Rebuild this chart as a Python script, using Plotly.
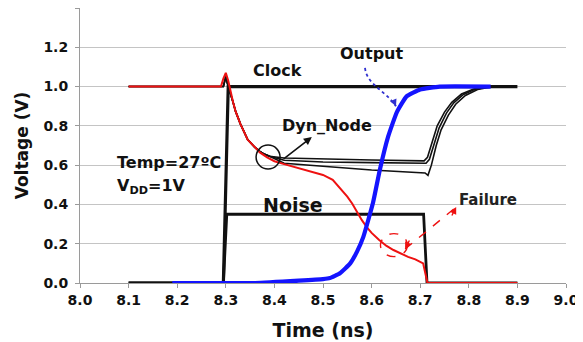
import plotly.graph_objects as go

# ---------------- data ----------------
clock_t = [8.10, 8.295, 8.305, 8.90]
clock_v = [0.0, 0.0, 1.0, 1.0]

noise_t = [8.10, 8.295, 8.302, 8.707, 8.714, 8.90]
noise_v = [0.0, 0.0, 0.35, 0.35, 0.0, 0.0]

decay_t = [8.10, 8.295, 8.300, 8.305, 8.315, 8.320, 8.330, 8.345, 8.360, 8.370, 8.380, 8.390]
decay_v = [1.00, 1.00, 1.05, 1.00, 0.92, 0.875, 0.81, 0.73, 0.69, 0.67, 0.655, 0.645]

dyn_a_t = [8.42, 8.50, 8.60, 8.708, 8.715, 8.725, 8.735, 8.750, 8.765, 8.785, 8.810, 8.835, 8.850]
dyn_a_v = [0.636, 0.630, 0.626, 0.622, 0.640, 0.720, 0.800, 0.870, 0.920, 0.962, 0.988, 0.998, 1.000]

dyn_b_t = [8.42, 8.50, 8.60, 8.712, 8.719, 8.729, 8.739, 8.754, 8.769, 8.789, 8.814, 8.839, 8.855]
dyn_b_v = [0.625, 0.616, 0.613, 0.610, 0.630, 0.710, 0.790, 0.865, 0.917, 0.960, 0.987, 0.998, 1.000]

dyn_c_t = [8.42, 8.50, 8.60, 8.710, 8.716, 8.723, 8.733, 8.743, 8.758, 8.773, 8.793, 8.818, 8.843, 8.860]
dyn_c_v = [0.610, 0.595, 0.575, 0.560, 0.548, 0.600, 0.700, 0.780, 0.855, 0.910, 0.955, 0.985, 0.997, 1.000]

fail_t = [8.10, 8.290, 8.295, 8.300, 8.305, 8.310, 8.315, 8.320, 8.330, 8.345, 8.360, 8.370, 8.385,
          8.400, 8.420, 8.450, 8.480, 8.500, 8.520, 8.540, 8.550, 8.560, 8.570, 8.580, 8.590,
          8.600, 8.615, 8.630, 8.645, 8.660, 8.675, 8.690, 8.700, 8.706, 8.715, 8.90]
fail_v = [1.00, 1.00, 1.04, 1.07, 1.03, 0.97, 0.92, 0.875, 0.81, 0.73, 0.69, 0.665, 0.64,
          0.62, 0.605, 0.585, 0.565, 0.55, 0.525, 0.47, 0.44, 0.405, 0.36, 0.32, 0.285,
          0.255, 0.22, 0.19, 0.168, 0.15, 0.133, 0.12, 0.108, 0.10, 0.0, 0.0]

out_t = [8.19, 8.36, 8.45, 8.50, 8.514, 8.535, 8.556, 8.570, 8.583, 8.603, 8.617, 8.634, 8.652,
         8.672, 8.700, 8.740, 8.845]
out_v = [0.0, 0.0, 0.012, 0.02, 0.025, 0.05, 0.10, 0.16, 0.235, 0.41, 0.577, 0.745, 0.87,
         0.95, 0.985, 1.0, 1.0]

x_ticks = [8.0, 8.1, 8.2, 8.3, 8.4, 8.5, 8.6, 8.7, 8.8, 8.9, 9.0]
y_ticks = [0.0, 0.2, 0.4, 0.6, 0.8, 1.0, 1.2, 1.4]
y_ticktext = ["0.0", "0.2", "0.4", "0.6", "0.8", "1.0", "1.2", ""]

# ---------------- figure ----------------
FONT = "DejaVu Sans"
BLACK = "#111111"
RED = "#ee1111"
BLUE = "#1414ff"
GRID = "#c4c4c4"

fig = go.Figure()

for t_list, v_list in [(dyn_a_t, dyn_a_v), (dyn_b_t, dyn_b_v), (dyn_c_t, dyn_c_v)]:
    fig.add_trace(go.Scatter(x=decay_t + t_list, y=decay_v + v_list, mode="lines",
                             line=dict(color=BLACK, width=1.6), hoverinfo="skip"))

fig.add_trace(go.Scatter(x=clock_t, y=clock_v, mode="lines", name="Clock",
                         line=dict(color=BLACK, width=3.2)))
fig.add_trace(go.Scatter(x=noise_t, y=noise_v, mode="lines", name="Noise",
                         line=dict(color=BLACK, width=2.8)))
fig.add_trace(go.Scatter(x=fail_t, y=fail_v, mode="lines", name="Dyn_Node (failure)",
                         line=dict(color=RED, width=2.0)))
fig.add_trace(go.Scatter(x=out_t, y=out_v, mode="lines", name="Output",
                         line=dict(color=BLUE, width=4.2, shape="spline", smoothing=0.4)))

annot_font = dict(family=FONT, size=16, color=BLACK, weight="bold")
annotations = [
    dict(x=8.407, y=1.08, text="Clock"),
    dict(x=8.599, y=1.166, text="Output"),
    dict(x=8.508, y=0.80, text="Dyn_Node"),
    dict(x=8.072, y=0.611, text="Temp=27ºC", xanchor="left"),
    dict(x=8.072, y=0.489, text="V<sub>DD</sub>=1V", xanchor="left"),
    dict(x=8.438, y=0.397, text="Noise", font=dict(family=FONT, size=19, color=BLACK, weight="bold")),
    dict(x=8.84, y=0.423, text="Failure", font=dict(family=FONT, size=15, color="#222222", weight="bold")),
]
for a in annotations:
    a.setdefault("xanchor", "center")
    a.setdefault("font", annot_font)
    a.update(xref="x", yref="y", yanchor="middle", showarrow=False)

# Dyn_Node arrow
annotations.append(dict(x=8.477, y=0.743, ax=8.416, ay=0.626, xref="x", yref="y", axref="x", ayref="y",
                        text="", showarrow=True, arrowhead=2, arrowsize=1, arrowwidth=1.6,
                        arrowcolor=BLACK, standoff=0))
# Failure dashed double arrow: heads only (dashed shaft drawn as a shape)
annotations.append(dict(x=8.774, y=0.387, ax=-5, ay=10, xref="x", yref="y",
                        text="", showarrow=True, arrowhead=2, arrowsize=1, arrowwidth=1.4,
                        arrowcolor=RED, standoff=0))
annotations.append(dict(x=8.669, y=0.173, ax=5, ay=-10, xref="x", yref="y",
                        text="", showarrow=True, arrowhead=2, arrowsize=1, arrowwidth=1.4,
                        arrowcolor=RED, standoff=0))
# Output dotted arrow head
annotations.append(dict(x=8.6502, y=0.900, ax=-3, ay=-7, xref="x", yref="y",
                        text="", showarrow=True, arrowhead=2, arrowsize=1, arrowwidth=1.4,
                        arrowcolor="#3030d0", standoff=0))

shapes = [
    # black circle on Dyn_Node
    dict(type="circle", xref="x", yref="y", xsizemode="pixel", ysizemode="pixel",
         xanchor=8.387, yanchor=0.641, x0=-12, x1=12, y0=-12, y1=12,
         line=dict(color=BLACK, width=1.5)),
    # red dashed circle
    dict(type="circle", xref="x", yref="y", xsizemode="pixel", ysizemode="pixel",
         xanchor=8.646, yanchor=0.193, x0=-13.5, x1=13.5, y0=-11.5, y1=11.5,
         line=dict(color=RED, width=1.4, dash="dash")),
    # red dashed shaft
    dict(type="line", xref="x", yref="y", x0=8.669, y0=0.173, x1=8.774, y1=0.387,
         line=dict(color=RED, width=1.4, dash="dash")),
    # blue dotted curved arrow
    dict(type="path", xref="x", yref="y",
         path="M 8.5864,1.0947 C 8.5905,1.008 8.6276,0.982 8.6502,0.900",
         line=dict(color="#3030d0", width=1.8, dash="dot")),
]

# the page body has an 8px margin, so the figure is sized to 575x334
fig.update_layout(
    width=575, height=334,
    margin=dict(l=72, r=17, t=0, b=59, autoexpand=False),
    paper_bgcolor="white", plot_bgcolor="white",
    showlegend=False,
    font=dict(family=FONT, size=14, color=BLACK),
    annotations=annotations,
    shapes=shapes,
)
fig.update_xaxes(
    range=[8.0, 9.0], tickvals=x_ticks, ticktext=[f"{v:.1f}" for v in x_ticks],
    showgrid=False, zeroline=False, showline=True, linecolor="#9a9a9a", linewidth=1,
    ticks="outside", ticklen=4, tickcolor="#9a9a9a", automargin=False,
    tickfont=dict(family=FONT, size=14, color=BLACK, weight="bold"),
    title=dict(text="Time (ns)", font=dict(family=FONT, size=19, color=BLACK, weight="bold"), standoff=16),
)
fig.update_yaxes(
    range=[0, 1.4], tickvals=y_ticks, ticktext=y_ticktext,
    showgrid=True, gridcolor=GRID, gridwidth=1, zeroline=False,
    showline=True, linecolor="#9a9a9a", linewidth=1, automargin=False,
    ticks="outside", ticklen=4, tickcolor="#9a9a9a", ticklabelstandoff=4,
    tickfont=dict(family=FONT, size=14, color=BLACK, weight="bold"),
    title=dict(text="Voltage (V)", font=dict(family=FONT, size=17, color=BLACK, weight="bold"), standoff=10),
)

fig.write_html("out.html")
